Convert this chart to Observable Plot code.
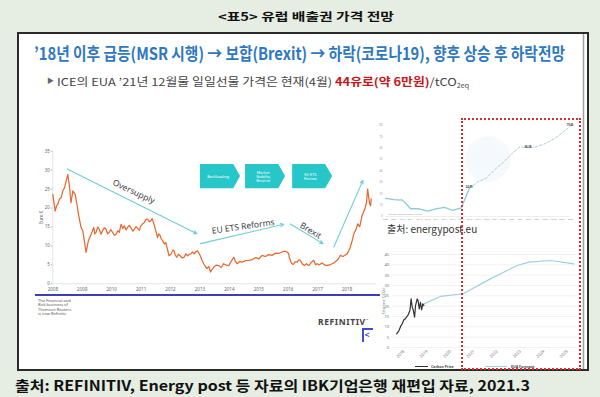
<!DOCTYPE html>
<html><head><meta charset="utf-8">
<script src="https://cdn.jsdelivr.net/npm/d3@7"></script>
<script src="https://cdn.jsdelivr.net/npm/@observablehq/plot@0.6"></script>
<style>
html,body{margin:0;padding:0;background:#e6ede2;}
#page{position:relative;width:600px;height:397px;overflow:hidden;font-family:"Noto Sans CJK KR","Noto Sans",sans-serif;}
.abs{position:absolute;}
.fit{white-space:nowrap;line-height:1;transform-origin:0 0;display:inline-block;}
.chart svg{display:block;overflow:visible;}
</style></head><body>
<div id="page">
  <svg class="abs" width="600" height="397" style="left:0;top:0;">
    <rect x="0" y="0" width="600" height="397" fill="#e6ede2"></rect>
    <rect x="18" y="33" width="570" height="337" fill="#ffffff" stroke="#2b2b2b" stroke-width="2"></rect>
    <line x1="583.5" y1="34" x2="583.5" y2="369" stroke="#a0a0a0" stroke-width="1.5"></line>
  </svg>
  <div class="abs fit" id="title" style="left:218px;top:11px;font-size:11.5px;font-weight:700;color:#111;">&lt;표5&gt; 유럽 배출권 가격 전망</div>
  <div class="abs fit" id="heading" style="left:34px;top:43.5px;font-size:17px;font-weight:700;color:#2e78c0;">’18년 이후 급등(MSR 시행) → 보합(Brexit) → 하락(코로나19), 향후 상승 후 하락전망</div>
  <div class="abs" style="left:47px;top:77px;font-size:7px;line-height:1;color:#666;">▶</div>
  <div class="abs fit" id="bullet" style="left:57px;top:75.5px;font-size:11px;color:#444;">ICE의 EUA ’21년 12월물 일일선물 가격은 현재(4월) <b style="color:#c8161d">44유로(약 6만원)</b>/tCO<sub style="font-size:6px;vertical-align:-2px">2eq</sub></div>
  <div class="abs chart" id="mainChart" style="left:20px;top:140px;"></div>
  <div class="abs" style="left:35px;top:294px;width:345px;height:2px;background:#3d3db5;"></div>
  <div class="abs" style="left:38px;top:299px;font-family:'Noto Sans';font-size:4px;line-height:4.3px;color:#555;">The Financial and<br>Risk business of<br>Thomson Reuters<br>is now Refinitiv</div>
  <div class="abs" style="left:318px;top:318px;font-family:'Noto Sans';font-size:8.5px;font-weight:700;letter-spacing:0.6px;line-height:1;color:#444;">REFINITIV<sup style="font-size:3px">™</sup></div>
  <div class="abs" style="left:362px;top:328px;width:9px;height:12px;border-top:2px solid #3d4fc8;border-left:2px solid #3d4fc8;"></div>
  <div class="abs" style="left:364.5px;top:330px;font-family:'Noto Sans';font-size:9px;font-weight:700;line-height:1;color:#3d4fc8;">&lt;</div>
  <div class="abs" style="left:465px;top:136px;width:46px;height:46px;border-radius:50%;background:radial-gradient(circle, rgba(225,237,248,0.35) 0%, rgba(225,237,248,0.3) 62%, rgba(250,230,205,0.22) 82%, rgba(255,255,255,0) 100%);"></div>
  <div class="abs chart" id="topRight" style="left:376px;top:115px;"></div>
  <div class="abs" style="left:387px;top:224px;font-size:10px;line-height:1;color:#333;">출처: energypost.eu</div>
  <div class="abs chart" id="botRight" style="left:376px;top:245px;"></div>
  <div class="abs" style="left:415px;top:366px;width:13px;height:1px;background:#333;"></div>
  <div class="abs" style="left:431px;top:364.5px;font-family:'Noto Sans';font-size:3.6px;font-weight:700;line-height:1;color:#444;">Carbon Price</div>
  <div class="abs" style="left:485px;top:366px;width:22px;height:1px;background:#9fd0e0;"></div>
  <div class="abs" style="left:511px;top:364.5px;font-family:'Noto Sans';font-size:3.6px;font-weight:700;line-height:1;color:#444;">EUA Forecast</div>
  <div class="abs" style="left:461px;top:118px;width:116px;height:248px;border:2.2px dotted #e02a2a;"></div>
  <div class="abs fit" id="footer" style="left:15px;top:378px;font-size:14px;font-weight:700;color:#111;">출처: REFINITIV, Energy post 등 자료의 IBK기업은행 재편입 자료, 2021.3</div>
</div>
<script>
// ---------- Data: EUA spot/futures price (Refinitiv chart), euro ----------
const euaYear = [2008.00,2008.04,2008.08,2008.13,2008.17,2008.22,2008.28,2008.34,2008.40,2008.45,2008.51,2008.56,2008.62,2008.68,2008.76,2008.82,2008.88,2008.96,
 2009.02,2009.07,2009.13,2009.21,2009.30,2009.39,2009.43,2009.47,2009.53,2009.58,2009.64,2009.69,2009.75,2009.81,2009.86,2009.92,2009.97,
 2010.03,2010.09,2010.15,2010.21,2010.26,2010.32,2010.38,2010.43,2010.49,2010.54,2010.60,2010.66,2010.72,2010.77,2010.83,2010.88,2010.94,2010.99,
 2011.05,2011.11,2011.17,2011.22,2011.28,2011.33,2011.38,2011.42,2011.46,2011.50,2011.56,2011.60,2011.65,2011.69,2011.73,2011.79,2011.84,2011.88,2011.95,
 2012.03,2012.08,2012.12,2012.16,2012.21,2012.27,2012.33,2012.40,2012.46,2012.52,2012.58,2012.64,2012.69,2012.75,2012.80,2012.86,2012.92,2012.97,2013.01,
 2013.07,2013.13,2013.19,2013.24,2013.30,2013.36,2013.42,2013.47,2013.55,2013.64,2013.72,2013.81,2013.90,2013.98,2014.06,2014.15,2014.20,2014.26,2014.35,2014.43,
 2014.55,2014.66,2014.78,2014.89,2015.00,2015.11,2015.22,2015.34,2015.45,2015.57,2015.68,2015.79,2015.88,2015.96,2016.01,2016.05,2016.11,2016.17,2016.23,2016.30,
 2016.36,2016.41,2016.48,2016.55,2016.62,2016.70,2016.78,2016.87,2016.93,2016.98,2017.06,2017.15,2017.23,2017.32,2017.40,2017.49,2017.57,2017.66,2017.72,2017.77,
 2017.86,2017.94,2018.00,2018.06,2018.11,2018.17,2018.23,2018.30,2018.36,2018.43,2018.51,2018.57,2018.62,2018.66,2018.70,2018.74,2018.77,2018.80,2018.82];
const euaPrice = [23.6,21.5,19.2,20.6,21.0,22.3,22.7,24.5,25.4,27.0,28.9,26.0,21.4,24.5,23.6,21.0,18.0,14.9,
 14.0,11.4,8.3,11.4,13.0,14.9,13.2,13.6,15.0,14.4,13.1,14.0,14.8,14.4,13.2,13.6,14.3,
 13.6,12.8,13.1,14.0,13.6,15.7,14.6,15.3,14.2,14.9,15.4,14.7,13.9,14.4,15.1,14.7,14.1,15.3,
 15.8,16.2,17.0,17.1,16.4,16.6,17.2,16.2,15.1,14.0,12.2,13.2,12.7,11.8,11.4,10.5,10.9,9.6,7.4,
 7.9,8.9,8.7,7.6,7.0,7.8,7.4,6.8,7.0,7.9,7.4,7.8,7.9,8.4,7.9,8.5,8.7,8.0,7.4,
 6.2,5.3,4.5,4.0,4.6,3.1,3.9,4.4,4.9,4.8,4.3,5.3,4.9,4.8,5.9,7.0,6.0,5.3,5.9,5.7,
 6.1,6.2,6.4,6.9,6.6,7.5,7.2,7.7,7.5,8.1,8.0,8.4,8.6,8.4,8.0,6.6,5.4,5.1,5.8,5.7,
 6.3,6.2,5.2,4.8,5.3,4.8,5.6,6.2,5.0,5.3,5.0,5.5,5.0,4.8,5.0,5.3,5.6,6.2,6.8,7.5,
 7.2,7.6,7.9,8.8,9.7,11.3,13.2,14.3,15.8,15.1,18.0,19.1,20.2,21.4,25.0,22.6,21.1,20.6,22.4];
const mainYTicks = [0,5,10,15,20,25,30,35];
const mainXTicks = [2008,2009,2010,2011,2012,2013,2014,2015,2016,2017,2018];
// annotation arrows (year, euro)
const arrowLabel = ["Oversupply","EU ETS Reforms","Brexit",""];
const arrowX1 = [2008.49,2013.02,2016.07,2017.55];
const arrowY1 = [30.3,10.6,15.8,9.7];
const arrowX2 = [2012.90,2015.85,2017.18,2018.54];
const arrowY2 = [13.2,15.7,10.6,27.3];
const labelX = [2010.75,2014.47,2016.76,null];
const labelY = [24.3,15.1,14.0,null];
const labelAngle = [25,-8,31,0];
// policy boxes (year span, euro span)
const boxLabel = ["Backloading","Market\nStability\nReserve","EU ETS\nReview"];
const boxStart = [2013.02,2014.55,2016.15];
const boxEnd = [2014.15,2015.68,2017.27];
const boxTip = [2014.38,2015.91,2017.51];
const boxLow = [25.1,25.1,25.1];
const boxHigh = [31.5,31.5,31.5];

// ---------- Data: EUA price outlook to 2030 (top right) ----------
const outYear = [2008,2009,2010,2011,2012,2013,2014,2015,2016,2017,2018,2019,2020,2021,2022,2023,2024,2025,2026,2027,2028,2029,2030];
const outPrice = [16.0,14.8,14.5,6.8,6.8,4.7,6.7,8.0,5.3,7.5,24.99,30.5,33.8,41.2,47.5,55.0,61.3,60.38,61.5,64.0,68.0,73.5,79.46];
const outLabelled = [2018,2025,2030];
const outYTicks = [0,10,20,30,40,50,60,70,80];

// ---------- Data: carbon price & EUA forecast (bottom right) ----------
const cpYear = [2017.69,2017.79,2017.86,2017.93,2018.00,2018.07,2018.11,2018.17,2018.26,2018.31,2018.36,2018.40,2018.46,2018.50,2018.57,2018.61,2018.66,2018.71,2018.76,2018.81,2018.86];
const cpPrice = [6.6,8.2,10.2,11.5,13.4,13.9,14.7,15.5,17.9,23.5,19.5,18.2,14.7,20.3,23.5,22.7,18.7,21.9,18.2,21.1,20.3];
const fcYear = [2018.86,2019.57,2020.54,2021.71,2022.86,2023.36,2024.29,2025.29];
const fcPrice = [21.1,24.7,26.0,33.2,39.7,41.3,42.1,40.5];
const fcYTicks = [0,5,10,15,20,25,30,35,40,45];
const fcXTicks = [2018,2019,2020,2021,2022,2023,2024,2025];

// ---------- Build ----------
const eua = euaYear.map((x,i)=>({x, y:euaPrice[i]}));
const arrows = arrowX1.map((x1,i)=>({x1, y1:arrowY1[i], x2:arrowX2[i], y2:arrowY2[i]}));
const arrowTexts = arrowLabel.map((t,i)=>({t, x:labelX[i], y:labelY[i], a:labelAngle[i]})).filter(d=>d.t);
const boxes = boxLabel.flatMap((b,i)=>{
  const mid=(boxLow[i]+boxHigh[i])/2;
  return [{b,x:boxStart[i],lo:boxLow[i],hi:boxHigh[i]},{b,x:boxEnd[i],lo:boxLow[i],hi:boxHigh[i]},{b,x:boxTip[i],lo:mid,hi:mid}];
});
const boxTexts = boxLabel.map((b,i)=>({b, x:(boxStart[i]+boxTip[i])/2 - 0.08, y:(boxLow[i]+boxHigh[i])/2}));

const tiny = {background:"transparent", fontFamily:"'Noto Sans', sans-serif", overflow:"visible"};

const main = Plot.plot({
  width:358, height:210, marginLeft:32.3, marginRight:2, marginTop:10.7, marginBottom:66.7,
  x:{domain:[2008,2019]}, y:{domain:[0,35]}, style:tiny,
  marks:[
    Plot.ruleY([0],{stroke:"#d0d0d0",strokeWidth:0.6}),
    Plot.ruleX([2008],{stroke:"#d0d0d0",strokeWidth:0.6}),
    Plot.axisY({ticks:mainYTicks, tickSize:1.5, tickPadding:1.5, fontSize:4.5, fill:"#666", stroke:"#bbb",
      label:"Euro €", labelAnchor:"center", labelArrow:"none", labelOffset:13}),
    Plot.axisX({ticks:mainXTicks, tickFormat:d=>String(d), tickSize:0, tickPadding:3.5, fontSize:4.5, fill:"#666", label:null}),
    Plot.area(boxes,{x1:"x", y1:"lo", y2:"hi", z:"b", fill:"#26c6c9", curve:"linear"}),
    Plot.text(boxTexts,{x:"x", y:"y", text:"b", fill:"#fff", fontSize:3.8, lineHeight:1.15}),
    Plot.line(eua,{x:"x", y:"y", stroke:"#e8692f", strokeWidth:1.25}),
    Plot.arrow(arrows,{x1:"x1", y1:"y1", x2:"x2", y2:"y2", stroke:"#6dcfd0", strokeWidth:1.1, headLength:5, headAngle:50}),
    Plot.text(arrowTexts,{x:"x", y:"y", text:"t", rotate:"a", fontSize:8.5, fill:"#444"})
  ]
});
document.getElementById("mainChart").append(main);

const out = outYear.map((x,i)=>({x, y:outPrice[i]}));
const outHist = out.filter(d=>d.x<=2018);
const outFc = out.filter(d=>d.x>=2018);
const outLab = out.filter(d=>outLabelled.includes(d.x));
const topRight = Plot.plot({
  width:206, height:112, marginLeft:9, marginRight:12, marginTop:10, marginBottom:11,
  x:{domain:[2008,2030]}, y:{domain:[0,80]}, style:tiny,
  marks:[
    Plot.ruleY([0],{stroke:"#ddd",strokeWidth:0.5}),
    Plot.axisY({ticks:outYTicks, tickSize:0, tickPadding:3, fontSize:2.6, fill:"#999", label:null}),
    Plot.axisX({ticks:outYear, tickFormat:d=>String(d), tickSize:0, tickPadding:2, fontSize:2.4, fill:"#999", label:null}),
    Plot.text(["Source: Carbon Market Watch"],{frameAnchor:"bottom-left", dx:3, dy:-2, fontSize:2.4, fill:"#999", textAnchor:"start"}),
    Plot.line(outHist,{x:"x", y:"y", stroke:"#8ccbdc", strokeWidth:1.3}),
    Plot.line(outFc,{x:"x", y:"y", stroke:"#9fc7d6", strokeWidth:0.9, strokeDasharray:"2.5,2"}),
    Plot.text(outLab,{x:"x", y:"y", text:d=>d.y.toFixed(2), dy:d=>d.x===2030?0:5, dx:d=>d.x===2018?3:0, fontSize:2.6, fill:"#333", fontWeight:700})
  ]
});
document.getElementById("topRight").append(topRight);

const cp = cpYear.map((x,i)=>({x, y:cpPrice[i]}));
const fc = fcYear.map((x,i)=>({x, y:fcPrice[i]}));
const botRight = Plot.plot({
  width:206, height:126, marginLeft:15.7, marginRight:3.7, marginTop:9, marginBottom:24,
  x:{domain:[2017.5,2025.5]}, y:{domain:[0,45]}, style:tiny,
  marks:[
    Plot.gridY(fcYTicks,{stroke:"#e9e9e9", strokeOpacity:1, strokeWidth:0.6}),
    Plot.axisY({ticks:fcYTicks, tickSize:0, tickPadding:3, fontSize:4.2, fill:"#777",
      label:"€/tonne CO2e", labelAnchor:"center", labelArrow:"none", labelOffset:10}),
    Plot.axisX({ticks:fcXTicks, tickFormat:d=>String(d), tickRotate:-45, tickSize:0, tickPadding:3, fontSize:4.2, fill:"#777", label:null}),
    Plot.line(fc,{x:"x", y:"y", stroke:"#9fd0e0", strokeWidth:1.2}),
    Plot.line(cp,{x:"x", y:"y", stroke:"#333", strokeWidth:1.2})
  ]
});
document.getElementById("botRight").append(botRight);

// fit text rows to their measured widths in the reference
function fit(id, w){
  const el=document.getElementById(id);
  const r=el.getBoundingClientRect().width;
  el.style.transform=`scaleX(${w/r})`;
}
fit("title",176); fit("heading",531); fit("bullet",412); fit("footer",515);
</script>
</body></html>
